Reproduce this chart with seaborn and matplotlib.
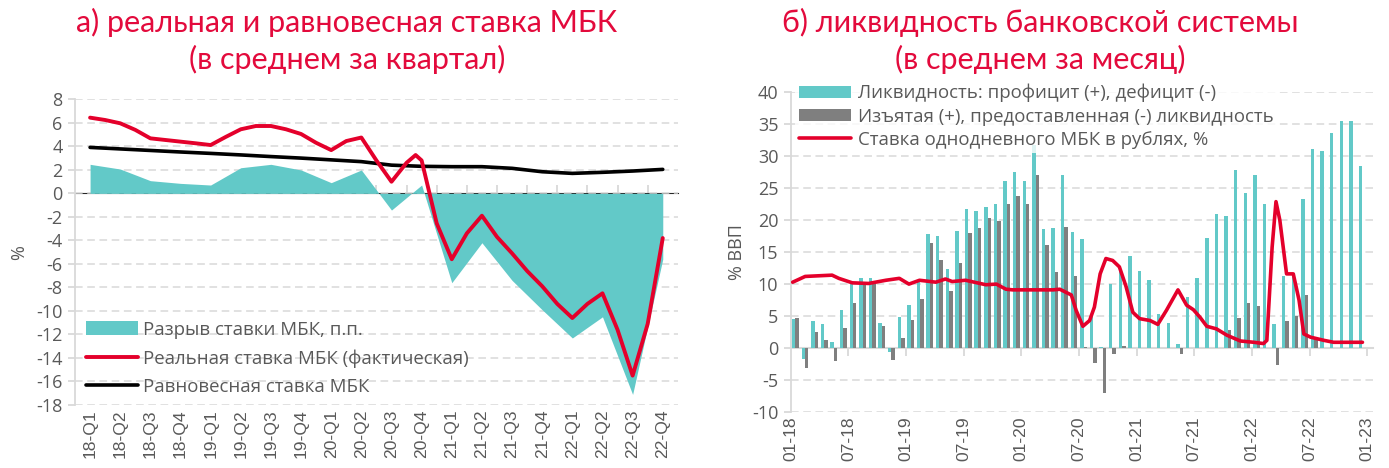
import numpy as np
import pandas as pd
import matplotlib
matplotlib.use('Agg')
import matplotlib.pyplot as plt
import seaborn as sns
from matplotlib.patches import Patch
from matplotlib.lines import Line2D

# ---- panel a: quarterly rates ----
quarters = ['18-Q1', '18-Q2', '18-Q3', '18-Q4', '19-Q1', '19-Q2', '19-Q3', '19-Q4',
            '20-Q1', '20-Q2', '20-Q3', '20-Q4', '21-Q1', '21-Q2', '21-Q3', '21-Q4',
            '22-Q1', '22-Q2', '22-Q3', '22-Q4']
rate_gap = [2.47, 2.07, 1.08, 0.85, 0.71, 2.18, 2.47, 1.99, 0.91, 1.99,
            -1.42, 0.71, -7.6, -4.2, -7.4, -9.9, -12.3, -10.5, -17.1, -5.6]
equilibrium_rate = [3.91, 3.78, 3.65, 3.52, 3.40, 3.27, 3.13, 3.0, 2.85, 2.7,
                    2.4, 2.3, 2.27, 2.27, 2.13, 1.84, 1.70, 1.79, 1.9, 2.04]
real_pos = [0, 0.5, 1, 1.5, 2, 2.5, 3, 3.5, 4, 4.5, 5, 5.5, 6, 6.5, 7, 7.5, 8, 8.5, 9, 9.5,
            10, 10.5, 10.8, 11, 11.5, 12, 12.5, 13, 13.5, 14, 14.5, 15, 15.5, 16, 16.5, 17,
            17.5, 18, 18.5, 19]
real_rate = [6.44, 6.24, 5.96, 5.4, 4.68, 4.54, 4.4, 4.26, 4.11, 4.8, 5.45, 5.73, 5.73, 5.45,
             5.05, 4.3, 3.68, 4.45, 4.75, 2.8, 0.99, 2.6, 3.26, 2.8, -2.55, -5.6, -3.4, -1.9,
             -3.7, -5.1, -6.6, -7.9, -9.4, -10.6, -9.4, -8.5, -11.6, -15.5, -11.1, -3.8]

# ---- panel b: monthly liquidity, Jan-18 .. Dec-22 ----
month_ticks = ['01-18', '07-18', '01-19', '07-19', '01-20', '07-20',
               '01-21', '07-21', '01-22', '07-22', '01-23']
liquidity = [4.5, -1.7, 4.3, 3.8, 0.9, 6.0, 10.0, 11.0, 11.0, 3.9, -0.6, 4.8,
             6.7, 10.3, 17.8, 17.5, 12.3, 18.3, 21.8, 21.5, 22.0, 22.5, 26.1, 27.5,
             26.1, 31.8, 18.6, 18.8, 27.0, 18.1, 17.1, 5.4, 0.2, 10.0, 12.3, 14.4,
             12.1, 10.7, 5.4, 3.9, 0.6, 8.0, 10.9, 17.2, 21.0, 20.7, 27.8, 24.2,
             27.0, 22.5, 3.7, 11.2, 11.7, 23.3, 31.1, 30.8, 33.7, 35.5, 35.5, 28.5]
withdrawn = [4.7, -3.1, 2.5, 1.2, -2.1, 3.2, 7.0, 10.0, 10.0, 3.4, -1.9, 1.6,
             4.4, 7.7, 16.5, 13.8, 8.9, 13.3, 18.0, 18.7, 20.4, 19.8, 22.5, 23.8,
             22.5, 27.1, 16.1, 11.9, 19.0, 11.3, 0.15, -2.3, -7.1, -0.9, 0.25, 0.0,
             0.0, 0.0, 0.0, 0.0, -1.0, 0.0, 0.0, 0.0, 0.0, 2.8, 4.7, 7.1,
             6.6, 0.0, -2.6, 4.3, 5.0, 8.3, 1.5, 0.0, 0.0, 0.0, 0.0, 0.0]
# overnight rate, position in months from Jan-18
ovn_pos = [0.2, 1.5, 2.9, 4.3, 5.0, 6.4, 8.1, 9.9, 11.3, 12.3, 13.4, 15.1, 16.1, 16.8,
           18.2, 20.3, 21.4, 22.4, 23.1, 27.3, 28.0, 29.2, 29.7, 30.4, 31.1, 31.6,
           32.2, 32.8, 33.5, 34.2, 34.9, 35.6, 36.3, 37.4, 38.2, 39.1, 40.3, 41.2,
           41.9, 42.6, 43.3, 44.3, 45.4, 46.8, 48.2, 49.2, 49.55, 50.1, 50.5, 50.9,
           51.6, 52.3, 52.9, 53.4, 54.1, 55.5, 56.5, 59.5]
ovn_rate = [10.3, 11.2, 11.3, 11.4, 10.9, 10.2, 10.1, 10.6, 10.9, 10.0, 10.6, 10.3, 10.8, 10.4,
            10.6, 9.9, 10.0, 9.2, 9.1, 9.1, 9.2, 8.3, 5.9, 3.4, 4.3, 6.4,
            11.6, 14.0, 13.7, 12.7, 9.6, 5.6, 4.6, 4.3, 3.7, 5.9, 9.1, 6.7,
            6.0, 4.8, 3.4, 3.0, 2.0, 1.1, 0.9, 0.7, 1.2, 15.8, 22.9, 20.0,
            11.6, 11.6, 7.5, 2.2, 1.7, 1.2, 0.9, 0.9]

CYAN = '#62C9C8'
GRAY = '#7F7F7F'
RED = '#E4002B'
TITLE_RED = '#E30A3C'
TEXT = '#595959'
GRID = '#D9D9D9'

sns.set_style('white')
plt.rcParams['font.family'] = ['Open Sans', 'DejaVu Sans']
plt.rcParams['axes.unicode_minus'] = False

fig = plt.figure(figsize=(13.89, 4.68), dpi=100)
ax1 = fig.add_axes([0.054, 0.1346, 0.434, 0.6532])
ax2 = fig.add_axes([0.5693, 0.1197, 0.4192, 0.6831])


def style_axis(ax, ymin, ymax, step, sec_ticks):
    ax.set_ylim(ymin, ymax)
    ax.set_yticks(np.arange(ymin, ymax + step / 2, step))
    ax.yaxis.grid(True, color=GRID, linestyle=(0, (5, 3)), linewidth=1.1)
    ax.xaxis.grid(False)
    ax.set_axisbelow(True)
    for s in ['top', 'right', 'bottom']:
        ax.spines[s].set_visible(False)
    ax.spines['left'].set_color(GRID)
    ax.spines['left'].set_linewidth(1.3)
    ax.tick_params(axis='y', which='both', left=True, length=5, color=GRID, width=1.3,
                   labelsize=13, labelcolor=TEXT, pad=4)
    ax.tick_params(axis='x', length=0, labelsize=12.6, labelcolor=TEXT, rotation=90, pad=3)
    for lab in ax.get_xticklabels():
        lab.set_fontfamily('Liberation Sans')
    # axis line with tick marks at zero
    sec = ax.secondary_xaxis((0 - ymin) / (ymax - ymin))
    sec.set_xticks(sec_ticks, labels=[''] * len(sec_ticks))
    sec.spines['bottom'].set_color(GRID)
    sec.spines['bottom'].set_linewidth(1.5)
    sec.tick_params(axis='x', direction='out', length=6, color=GRID, width=1.3)
    return sec


# ---- panel a ----
xq = np.arange(len(quarters))
ax1.fill_between(xq, rate_gap, 0, color=CYAN, linewidth=0, zorder=2)
sns.lineplot(x=real_pos, y=real_rate, ax=ax1, color=RED, linewidth=2.8, zorder=4)
sns.lineplot(x=xq, y=equilibrium_rate, ax=ax1, color='black', linewidth=2.6, zorder=3)
ax1.set_xlim(-0.5, 19.5)
ax1.set_xticks(xq)
ax1.set_xticklabels(quarters)
style_axis(ax1, -18, 8, 2, xq[:-1] + 0.5)
ax1.set_xlabel('')
ax1.set_ylabel('%', fontsize=13, color=TEXT, labelpad=6)

h1 = [Patch(facecolor=CYAN, edgecolor='none'),
      Line2D([], [], color=RED, linewidth=2.8),
      Line2D([], [], color='black', linewidth=2.6)]
l1 = ['Разрыв ставки МБК, п.п.', 'Реальная ставка МБК (фактическая)', 'Равновесная ставка МБК']
leg1 = ax1.legend(h1, l1, loc='upper left', bbox_to_anchor=(0.012, 0.288), fontsize=13.4,
                  handlelength=2.8, handleheight=0.75, handletextpad=0.27, labelspacing=0.56,
                  frameon=False, borderpad=0.2, borderaxespad=0)
for t in leg1.get_texts():
    t.set_color(TEXT)

# ---- panel b ----
xm = np.arange(len(liquidity))
ax2.bar(xm + 0.3, liquidity, width=0.36, color=CYAN, linewidth=0, zorder=2)
ax2.bar(xm + 0.66, withdrawn, width=0.36, color=GRAY, linewidth=0, zorder=2)
sns.lineplot(x=ovn_pos, y=ovn_rate, ax=ax2, color=RED, linewidth=2.6, zorder=4)
ax2.set_xlim(0, 60.6)
tick_pos = np.arange(0, 61, 6)
ax2.set_xticks(tick_pos)
ax2.set_xticklabels(month_ticks)
style_axis(ax2, -10, 40, 5, tick_pos[1:])
ax2.set_xlabel('')
ax2.set_ylabel('% ВВП', fontsize=13, color=TEXT, labelpad=4)

h2 = [Patch(facecolor=CYAN, edgecolor='none'),
      Patch(facecolor=GRAY, edgecolor='none'),
      Line2D([], [], color=RED, linewidth=2.6)]
l2 = ['Ликвидность: профицит (+), дефицит (-)',
      'Изъятая (+), предоставленная (-) ликвидность',
      'Ставка однодневного МБК в рублях, %']
leg2 = ax2.legend(h2, l2, loc='upper left', bbox_to_anchor=(0.008, 1.038), fontsize=13.4,
                  handlelength=2.8, handleheight=0.65, handletextpad=0.37, labelspacing=0.28,
                  frameon=True, borderpad=0.2, borderaxespad=0)
leg2.get_frame().set_facecolor('white')
leg2.get_frame().set_edgecolor('none')
for t in leg2.get_texts():
    t.set_color(TEXT)

# ---- titles ----
fig.text(347 / 1389, 1 - 41 / 468, 'а) реальная и равновесная ставка МБК\n(в среднем за квартал)',
         ha='center', va='center', multialignment='center', fontsize=22, color=TITLE_RED,
         family=['Lato', 'DejaVu Sans'], linespacing=1.3)
fig.text(1040 / 1389, 1 - 41 / 468, 'б) ликвидность банковской системы\n(в среднем за месяц)',
         ha='center', va='center', multialignment='center', fontsize=22, color=TITLE_RED,
         family=['Lato', 'DejaVu Sans'], linespacing=1.3)

fig.savefig('out.png', dpi=100, facecolor='white')
